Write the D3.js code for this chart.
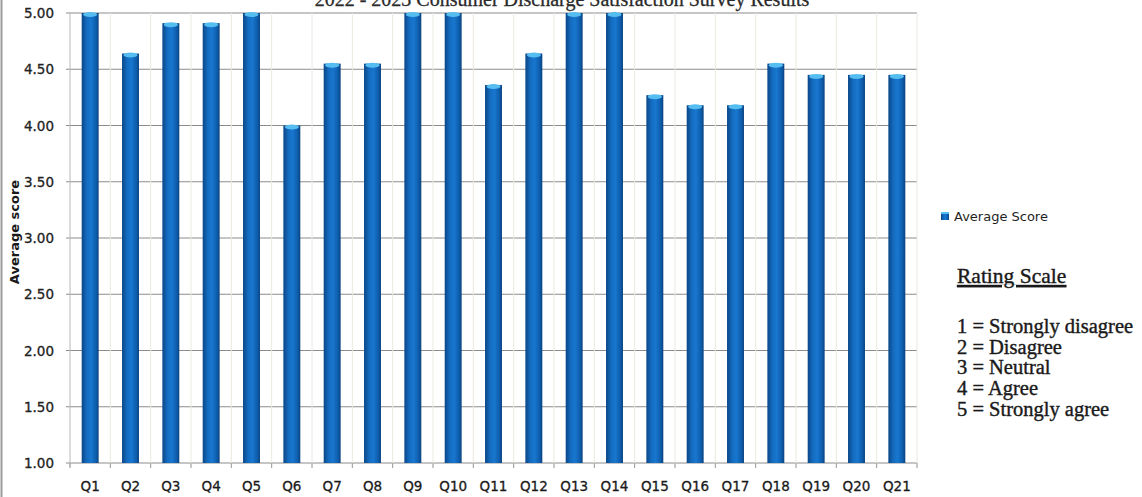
<!DOCTYPE html>
<html>
<head>
<meta charset="utf-8">
<script src="https://cdn.jsdelivr.net/npm/d3@7"></script>
<style>
  html, body { margin: 0; padding: 0; background: #fff; }
  svg { display: block; }
</style>
</head>
<body>
<svg id="chart" width="1142" height="497"></svg>
<script>
// Survey questions and their average scores (1–5 scale)
const questions = ["Q1","Q2","Q3","Q4","Q5","Q6","Q7","Q8","Q9","Q10","Q11","Q12","Q13","Q14","Q15","Q16","Q17","Q18","Q19","Q20","Q21"];
const averageScores = [5.00,4.64,4.91,4.91,5.00,4.00,4.55,4.55,5.00,5.00,4.36,4.64,5.00,5.00,4.27,4.18,4.18,4.55,4.45,4.45,4.45];
const yTicks = [1.00,1.50,2.00,2.50,3.00,3.50,4.00,4.50,5.00];
const scaleLines = ["1 = Strongly disagree","2 = Disagree","3 = Neutral","4 = Agree","5 = Strongly agree"];

const svg = d3.select("#chart");
const plot = { left: 70, right: 917, top: 13, bottom: 463 };

const x = d3.scaleBand().domain(questions).range([plot.left, plot.right]).paddingInner(0.58).paddingOuter(0.29);
const y = d3.scaleLinear().domain([1, 5]).range([plot.bottom, plot.top]);

// Bar gradient: darker edges, lighter centre
const defs = svg.append("defs");
const grad = defs.append("linearGradient").attr("id", "barGrad").attr("x1", "0").attr("x2", "1").attr("y1", "0").attr("y2", "0");
[[0, "#0a4687"], [0.3, "#146cc0"], [0.55, "#1877cf"], [0.85, "#0e5cab"], [1, "#09427e"]]
  .forEach(([o, c]) => grad.append("stop").attr("offset", o).attr("stop-color", c));

// Outer frame line on the left
svg.append("line").attr("x1", 1.5).attr("x2", 1.5).attr("y1", 0).attr("y2", 497)
  .attr("stroke", "#9a9a9a").attr("stroke-width", 2);

// Horizontal gridlines
svg.append("g").selectAll("line").data(yTicks).join("line")
  .attr("x1", plot.left - 4).attr("x2", plot.right)
  .attr("y1", d => y(d)).attr("y2", d => y(d))
  .attr("stroke", "#8c8c8c").attr("stroke-width", 1);

// Faint vertical lines at category boundaries
const bounds = d3.range(questions.length + 1).map(i => plot.left + i * (plot.right - plot.left) / questions.length);
svg.append("g").selectAll("line").data(bounds).join("line")
  .attr("x1", d => d).attr("x2", d => d)
  .attr("y1", plot.top).attr("y2", plot.bottom + 4)
  .attr("stroke", d => d === plot.left ? "#b8b8b8" : "#ece8e0").attr("stroke-width", 1);

// Small tick marks below the baseline
svg.append("g").selectAll("line").data(bounds).join("line")
  .attr("x1", d => d).attr("x2", d => d)
  .attr("y1", plot.bottom).attr("y2", plot.bottom + 5)
  .attr("stroke", "#9a9a9a");

// Bars
const bars = svg.append("g");
bars.selectAll("rect").data(questions).join("rect")
  .attr("x", (d) => x(d))
  .attr("y", (d, i) => y(averageScores[i]))
  .attr("width", x.bandwidth())
  .attr("height", (d, i) => y(1) - y(averageScores[i]))
  .attr("fill", "url(#barGrad)");

// Lighter top cap on each bar
bars.selectAll("ellipse").data(questions).join("ellipse")
  .attr("cx", d => x(d) + x.bandwidth() / 2)
  .attr("cy", (d, i) => y(averageScores[i]) + 1.5)
  .attr("rx", x.bandwidth() / 2 - 1.5)
  .attr("ry", 2.5)
  .attr("fill", "#56bdf0");

// Y axis tick labels
svg.append("g").selectAll("text").data(yTicks).join("text")
  .attr("x", 54).attr("y", d => y(d) + 5)
  .attr("text-anchor", "end")
  .attr("font-family", "DejaVu Sans, Verdana, sans-serif")
  .attr("font-size", 13.5)
  .attr("fill", "#222")
  .attr("stroke", "#222").attr("stroke-width", 0.3)
  .text(d => d.toFixed(2));

// X axis category labels
svg.append("g").selectAll("text").data(questions).join("text")
  .attr("x", d => x(d) + x.bandwidth() / 2).attr("y", 491)
  .attr("text-anchor", "middle")
  .attr("font-family", "DejaVu Sans, Verdana, sans-serif")
  .attr("font-size", 13.5)
  .attr("fill", "#1a1a1a")
  .attr("stroke", "#1a1a1a").attr("stroke-width", 0.3)
  .text(d => d);

// Y axis title
svg.append("text")
  .attr("transform", "translate(19,232) rotate(-90)")
  .attr("text-anchor", "middle")
  .attr("font-family", "DejaVu Sans, Verdana, sans-serif")
  .attr("font-size", 13).attr("font-weight", "bold")
  .attr("fill", "#1a1a1a")
  .text("Average score");

// Chart title (sits at the very top edge)
svg.append("text")
  .attr("x", 562).attr("y", 6)
  .attr("text-anchor", "middle")
  .attr("font-family", "Liberation Serif, DejaVu Serif, serif")
  .attr("font-size", 20)
  .attr("fill", "#2a2a2a")
  .attr("stroke", "#2a2a2a").attr("stroke-width", 0.3)
  .text("2022 - 2023 Consumer Discharge Satisfaction Survey Results");

// Legend
svg.append("rect").attr("x", 941).attr("y", 212).attr("width", 8).attr("height", 8).attr("fill", "url(#barGrad)");
svg.append("rect").attr("x", 941).attr("y", 212).attr("width", 8).attr("height", 2).attr("fill", "#56bdf0");
svg.append("text")
  .attr("x", 954).attr("y", 221)
  .attr("font-family", "DejaVu Sans, Verdana, sans-serif")
  .attr("font-size", 13)
  .attr("fill", "#1f1f1f")
  .text("Average Score");

// Rating scale key
svg.append("text")
  .attr("x", 957).attr("y", 283)
  .attr("font-family", "Liberation Serif, DejaVu Serif, serif")
  .attr("font-size", 21.5)
  .attr("text-decoration", "underline")
  .attr("fill", "#1a1a1a")
  .attr("stroke", "#1a1a1a").attr("stroke-width", 0.4)
  .text("Rating Scale");

// Scale definitions as one text block with stacked lines
svg.append("text")
  .attr("x", 957).attr("y", 333)
  .attr("font-family", "Liberation Serif, DejaVu Serif, serif")
  .attr("font-size", 20.5)
  .attr("fill", "#1a1a1a")
  .attr("stroke", "#1a1a1a").attr("stroke-width", 0.4)
  .selectAll("tspan").data(scaleLines).join("tspan")
  .attr("x", 957)
  .attr("dy", (d, i) => i === 0 ? 0 : 20.7)
  .text(d => d);
</script>
</body>
</html>
